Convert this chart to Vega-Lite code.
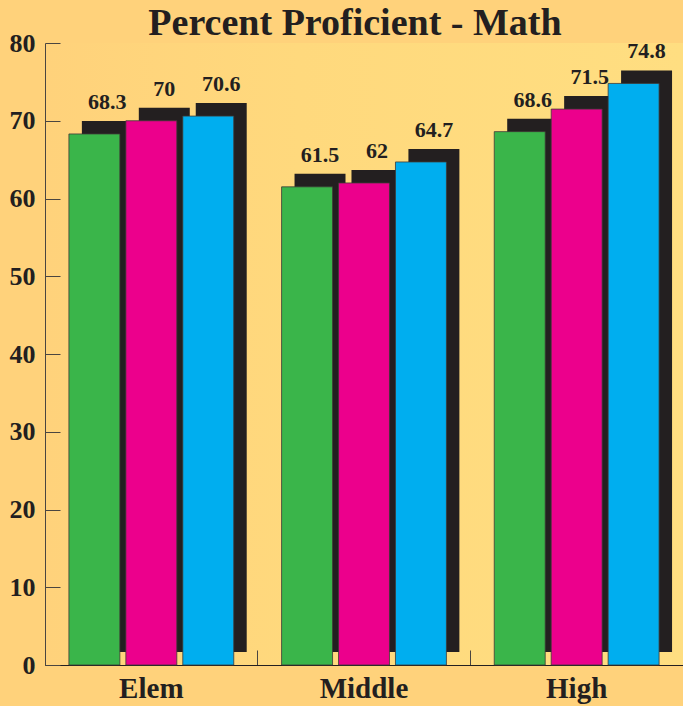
{
  "$schema": "https://vega.github.io/schema/vega-lite/v6.json",
  "autosize": "none",
  "width": 638,
  "height": 622,
  "padding": {"left": 45, "top": 43, "right": 0, "bottom": 41},
  "background": "#ffd27b",
  "title": {
    "text": "Percent Proficient - Math",
    "font": "Liberation Serif",
    "fontSize": 38,
    "fontWeight": "bold",
    "color": "#231f20",
    "anchor": "middle",
    "frame": "group",
    "baseline": "alphabetic",
    "offset": 10,
    "dy": 53,
    "dx": -9
  },
  "data": {
    "values": [
      {"level": "Elem", "series": "Series 1", "value": 68.3},
      {"level": "Elem", "series": "Series 2", "value": 70},
      {"level": "Elem", "series": "Series 3", "value": 70.6},
      {"level": "Middle", "series": "Series 1", "value": 61.5},
      {"level": "Middle", "series": "Series 2", "value": 62},
      {"level": "Middle", "series": "Series 3", "value": 64.7},
      {"level": "High", "series": "Series 1", "value": 68.6},
      {"level": "High", "series": "Series 2", "value": 71.5},
      {"level": "High", "series": "Series 3", "value": 74.8}
    ]
  },
  "encoding": {
    "x": {
      "field": "level",
      "type": "nominal",
      "sort": ["Elem", "Middle", "High"],
      "scale": {"paddingInner": 0, "paddingOuter": 0},
      "axis": {
        "title": null,
        "labelAngle": 0,
        "bandPosition": 0,
        "labelFont": "Liberation Serif",
        "labelFontSize": 29,
        "labelFontWeight": "bold",
        "labelColor": "#231f20",
        "labelBaseline": "alphabetic",
        "labelPadding": 47,
        "tickSize": -15,
        "tickColor": "#4a4540",
        "tickWidth": 1,
        "domainColor": "#231f20",
        "domainWidth": 1.2
      }
    },
    "y": {
      "field": "value",
      "type": "quantitative",
      "scale": {"domain": [0, 80]},
      "axis": {
        "title": null,
        "values": [0, 10, 20, 30, 40, 50, 60, 70, 80],
        "grid": false,
        "labelFont": "Liberation Serif",
        "labelFontSize": 26,
        "labelFontWeight": "bold",
        "labelColor": "#231f20",
        "labelPadding": 25,
        "tickSize": -15,
        "tickColor": "#4a4540",
        "tickWidth": 1,
        "domainColor": "#4a4540",
        "domainWidth": 1
      }
    }
  },
  "layer": [
    {
      "mark": {"type": "bar", "yOffset": -13, "color": "#231f20"},
      "encoding": {
        "xOffset": {
          "field": "series",
          "type": "nominal",
          "scale": {"paddingInner": 0.105, "paddingOuter": 0.42, "align": 0.771}
        }
      }
    },
    {
      "mark": {"type": "bar", "stroke": "#3d3a36", "strokeWidth": 0.8},
      "encoding": {
        "xOffset": {
          "field": "series",
          "type": "nominal",
          "scale": {"paddingInner": 0.105, "paddingOuter": 0.42, "align": 0.5}
        },
        "color": {
          "field": "series",
          "type": "nominal",
          "scale": {"range": ["#3ab54a", "#ec008c", "#00aeef"]},
          "legend": null
        }
      }
    },
    {
      "mark": {
        "type": "text",
        "dy": -25,
        "baseline": "alphabetic",
        "font": "Liberation Serif",
        "fontSize": 22,
        "fontWeight": "bold",
        "color": "#231f20"
      },
      "encoding": {
        "xOffset": {
          "field": "series",
          "type": "nominal",
          "scale": {"type": "band", "paddingInner": 0.105, "paddingOuter": 0.42, "align": 0.771}
        },
        "text": {"field": "value", "type": "quantitative"}
      }
    }
  ],
  "resolve": {"scale": {"xOffset": "independent"}},
  "config": {
    "view": {
      "stroke": null,
      "fill": {
        "gradient": "linear",
        "x1": 0, "y1": 0, "x2": 1, "y2": 0,
        "stops": [
          {"offset": 0, "color": "#ffd27b"},
          {"offset": 0.4, "color": "#ffd97d"},
          {"offset": 1, "color": "#ffde81"}
        ]
      }
    }
  }
}
